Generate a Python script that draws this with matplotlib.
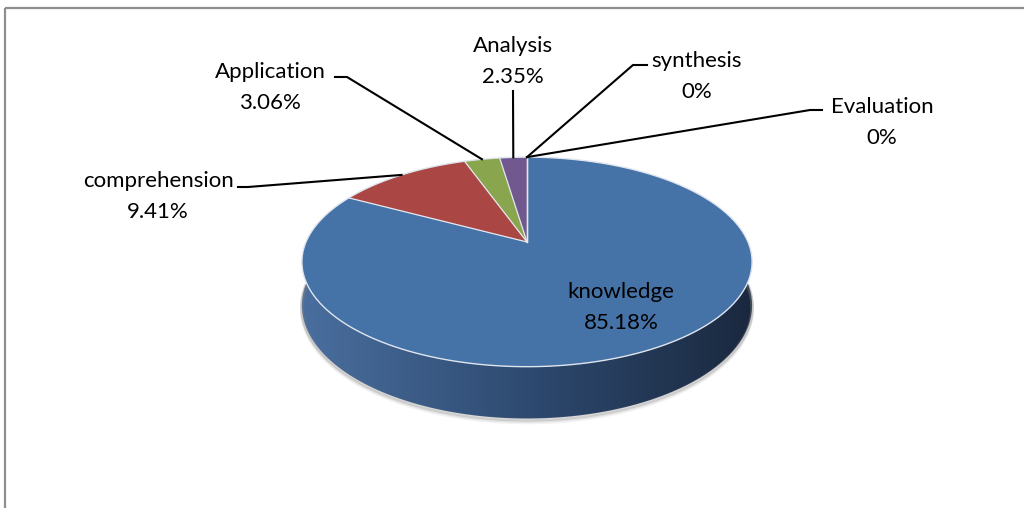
import numpy as np
import matplotlib
matplotlib.use("Agg")
import matplotlib.pyplot as plt
from matplotlib.patches import Polygon, Rectangle
from matplotlib.colors import LinearSegmentedColormap

# data (slice sizes as drawn in the picture; the printed labels are kept as text)
categories = ["knowledge", "comprehension", "Application", "Analysis", "synthesis", "Evaluation"]
values = [82.9, 11.69, 3.06, 2.35, 0, 0]
pct_labels = ["85.18%", "9.41%", "3.06%", "2.35%", "0%", "0%"]
colors = ["#4572a7", "#aa4643", "#89a54e", "#71588f", "#4198af", "#db843d"]

# label layout: (x centre, baseline of first line) in pixels, and leader elbows
label_pos = {
    "knowledge": (621, 298),
    "comprehension": (158, 187),
    "Application": (270, 78),
    "Analysis": (513, 52),
    "synthesis": (697, 67),
    "Evaluation": (882, 113),
}
leader_elbow = {
    "comprehension": [(238, 187), (248, 187)],
    "Application": [(335, 77), (347, 77)],
    "Analysis": [(513, 91)],
    "synthesis": [(647, 65), (633, 65)],
    "Evaluation": [(822, 110), (810, 110)],
}

# pie geometry with a simple perspective (pixels)
cx, cy = 527, 242
A, B, K = 221, 101, 0.19
H = 42


def proj(theta, drop=0.0):
    u, v = np.sin(theta), np.cos(theta)
    w = 1 + K * v
    return cx + A * u / w, cy - B * v / w + drop / w


plt.rcParams["font.family"] = ["Lato", "DejaVu Sans"]
fig = plt.figure(figsize=(10.24, 5.08), dpi=100)
ax = fig.add_axes([0, 0, 1, 1])
ax.set_xlim(0, 1024)
ax.set_ylim(508, 0)
ax.axis("off")

# frame
ax.add_patch(Rectangle((5, 8), 1040, 520, fill=False, edgecolor="#8e8e8e", linewidth=1.6))

# soft shadow under the pie
th = np.linspace(np.pi / 2, 3 * np.pi / 2, 200)
for off, al in [(4, 0.10), (2.5, 0.15), (1.2, 0.25)]:
    sx, sy = proj(th, H)
    ax.plot(sx, sy + off, color="#808080", alpha=al, linewidth=2.5, solid_capstyle="round")

# side of the cylinder with horizontal gradient
tx, ty = proj(th)
bx, by = proj(th[::-1], H)
side = Polygon(np.column_stack([np.r_[tx, bx], np.r_[ty, by]]), closed=True,
               facecolor="none", edgecolor="none")
ax.add_patch(side)
side_cmap = LinearSegmentedColormap.from_list("side", ["#4a6f9f", "#2e4a70", "#1a283e"])
grad = np.linspace(0, 1, 256).reshape(1, -1)
im = ax.imshow(grad, cmap=side_cmap, extent=(cx - A * 1.03, cx + A * 1.03, 430, 200),
               aspect="auto", interpolation="bilinear", zorder=1)
im.set_clip_path(side)
ax.set_xlim(0, 1024)
ax.set_ylim(508, 0)

# top wedges, clockwise from 12 o'clock
total = sum(values)
start = 0.0
mids = []
for val, col in zip(values, colors):
    a0 = start / total * 2 * np.pi
    a1 = (start + val) / total * 2 * np.pi
    mids.append((a0 + a1) / 2)
    start += val
    if val <= 0:
        continue
    t = np.linspace(a0, a1, max(int(val * 4), 8))
    px, py = proj(t)
    ax.add_patch(Polygon(np.column_stack([np.r_[cx, px], np.r_[cy, py]]), closed=True,
                         facecolor=col, edgecolor="none", zorder=2))

# slice separators and rim highlight
start = 0.0
for val in values:
    a = start / total * 2 * np.pi
    ex, ey = proj(a)
    ax.plot([cx, ex], [cy, ey], color="#e4e8ef", linewidth=0.9, zorder=3)
    start += val
tt = np.linspace(0, 2 * np.pi, 400)
rx, ry = proj(tt)
ax.plot(rx, ry, color="#dfe5ee", linewidth=1.0, zorder=3)

# labels and leader lines
for name, pct, mid in zip(categories, pct_labels, mids):
    lx, ly = label_pos[name]
    ax.text(lx, ly, name, ha="center", va="baseline", fontsize=16, color="#000000", zorder=5)
    ax.text(lx, ly + 31, pct, ha="center", va="baseline", fontsize=16, color="#000000", zorder=5)
    if name in leader_elbow:
        ex, ey = proj(mid)
        pts = leader_elbow[name] + [(ex, ey)]
        ax.plot([p[0] for p in pts], [p[1] for p in pts], color="#000000",
                linewidth=1.5, zorder=4)

fig.savefig("out.png", dpi=100)
